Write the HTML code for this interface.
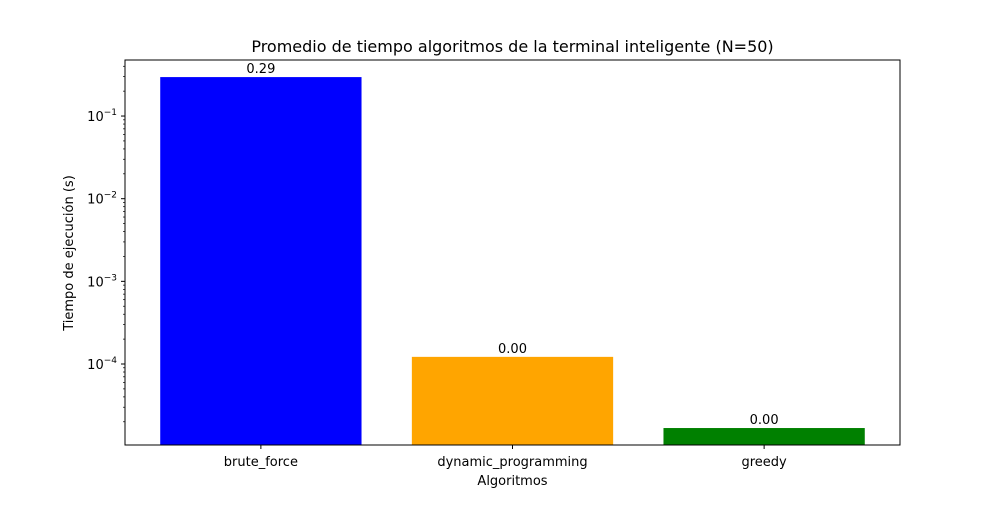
<!DOCTYPE html>
<html><head><meta charset="utf-8"><style>
body{margin:0;background:#fff;font-family:"Liberation Sans","DejaVu Sans",sans-serif;}
</style></head><body>
<svg id="chart" width="1000" height="500" xmlns="http://www.w3.org/2000/svg" font-family="DejaVu Sans, Liberation Sans, sans-serif"></svg>
<script>
const categories = ["brute_force","dynamic_programming","greedy"];
const values = [0.296, 0.000122, 0.0000168];
const labels = ["0.29","0.00","0.00"];
const colors = ["#0000ff","#ffa500","#008000"];
const tickExps = [-1,-2,-3,-4];

const L=125,R=900,T=60,B=445;
const yTopLog=-0.322, yBotLog=-4.98;
const NS="http://www.w3.org/2000/svg";
const svg=document.getElementById('chart');
function y(v){const l=Math.log10(v);return T+(yTopLog-l)/(yTopLog-yBotLog)*(B-T);}
const xmin=-0.54, xmax=categories.length-1+0.54;
function x(i){return L+(i-xmin)/(xmax-xmin)*(R-L);}
function el(t,a,p){const e=document.createElementNS(NS,t);for(const k in a)e.setAttribute(k,a[k]);(p||svg).appendChild(e);return e;}

categories.forEach((c,i)=>{
  const x0=x(i-0.4),x1=x(i+0.4),yt=y(values[i]);
  const r=el('rect',{x:x0,y:yt,width:x1-x0,height:B-yt,fill:colors[i]});
  
  
  const t=el('text',{x:x(i),y:yt-4,'text-anchor':'middle','font-size':13,fill:'#000'});
  t.textContent=labels[i];
  
  
  el('line',{x1:x(i),x2:x(i),y1:B,y2:B+4,stroke:'#000'});
  const tl=el('text',{x:x(i),y:B+21,'text-anchor':'middle','font-size':13});
  tl.textContent=c;
  
  
});
for(let e=-5;e<=0;e++){
  for(let m=1;m<10;m++){
    const v=m*Math.pow(10,e);const yy=y(v);
    if(yy<T||yy>B)continue;
    if(m===1){el('line',{x1:L-4,x2:L,y1:yy,y2:yy,stroke:'#000'});}
    else el('line',{x1:L-2,x2:L,y1:yy,y2:yy,stroke:'#000','stroke-width':0.7});
  }
}
tickExps.forEach(e=>{
  const yy=y(Math.pow(10,e));
  const t=el('text',{x:L-8,y:yy+5,'text-anchor':'end','font-size':13});
  t.innerHTML='10<tspan dy="-6" font-size="9">−'+(-e)+'</tspan>';
  
  
});
el('rect',{x:L,y:T,width:R-L,height:B-T,fill:'none',stroke:'#000','stroke-width':1});
const ti=el('text',{x:(L+R)/2,y:52,'text-anchor':'middle','font-size':16});
ti.textContent='Promedio de tiempo algoritmos de la terminal inteligente (N=50)';

const xt=el('text',{x:(L+R)/2,y:485,'text-anchor':'middle','font-size':13});
xt.textContent='Algoritmos';

const yt=el('text',{x:0,y:0,'text-anchor':'middle','font-size':13,transform:'translate(73,253) rotate(-90)'});
yt.textContent='Tiempo de ejecución (s)';

</script>
</body></html>
